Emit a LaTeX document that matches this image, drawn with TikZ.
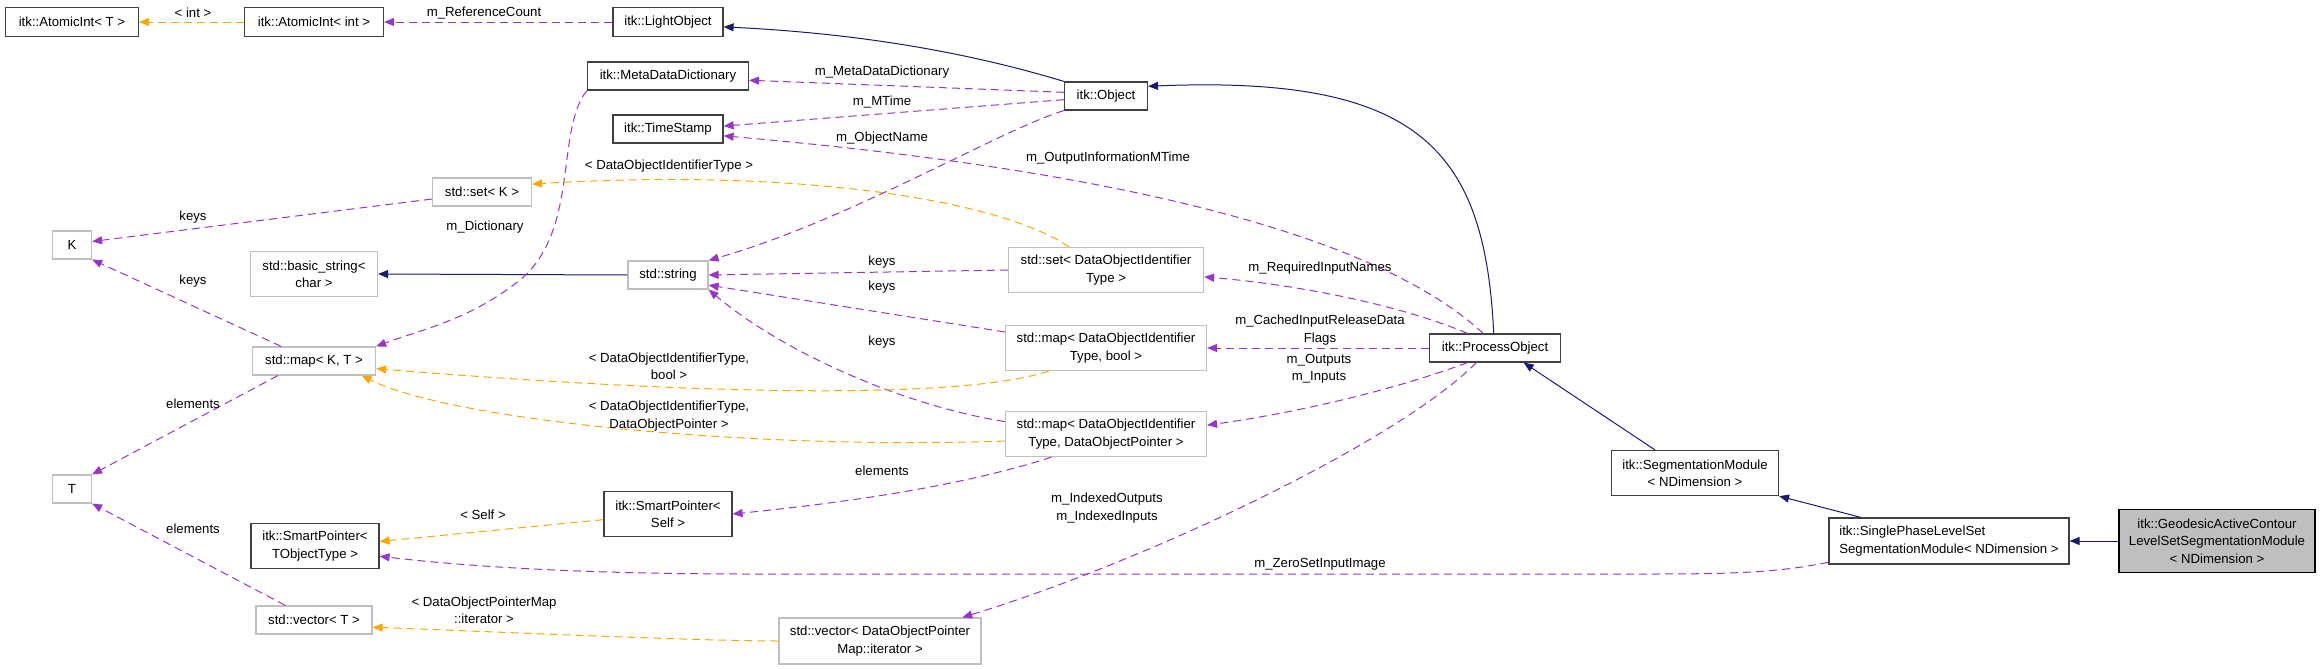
\documentclass[tikz,border=0pt]{standalone}
\usepackage{fontspec}
\setmainfont{Liberation Sans}
\usetikzlibrary{arrows.meta}
\definecolor{inhcol}{HTML}{191970}
\definecolor{usecol}{HTML}{9A32CD}
\definecolor{tplcol}{HTML}{FFA500}
\definecolor{doccol}{HTML}{404040}
\definecolor{extcol}{HTML}{BFBFBF}
\newcommand\dg{\fontsize{6.6}{8.7}\selectfont}
\tikzset{
  wh/.style 2 args={minimum width=#1*0.5pt, minimum height=#2*0.5pt},
  cls/.style={draw=doccol, line width=0.6pt, fill=white, inner sep=0pt, align=center, font=\dg},
  ext/.style={cls, draw=extcol},
  lbl/.style={inner sep=0pt, align=center, font=\dg},
  tip/.style={-{Triangle[length=5pt,width=4pt]}},
  inh/.style={tip, draw=inhcol, line width=0.5pt},
  use/.style={tip, draw=usecol, line width=0.5pt, dash pattern=on 4pt off 2.5pt},
  tpl/.style={tip, draw=tplcol, line width=0.5pt, dash pattern=on 4pt off 2.5pt},
}
\begin{document}
\begin{tikzpicture}[x=0.5pt, y=-0.5pt]
        \useasboundingbox (0,0) rectangle (2320,669);
        % The classes
        \node[cls, wh={133}{29}] (atomT)   at (72,22)   {itk::AtomicInt\textless{} T \textgreater};
        \node[cls, wh={139}{29}] (atomInt) at (314,22)  {itk::AtomicInt\textless{} int \textgreater};
        \node[cls, wh={110}{29}] (light)   at (668,22)  {itk::LightObject};
        \node[cls, wh={161}{28}] (meta)    at (668,76)  {itk::MetaDataDictionary};
        \node[cls, wh={110}{28}] (stamp)   at (668,129) {itk::TimeStamp};
        \node[ext, wh={99}{28}]  (setK)    at (482,192) {std::set\textless{} K \textgreater};
        \node[ext, wh={39}{28}]  (K)       at (72,245)  {K};
        \node[ext, wh={127}{45}] (bstr)    at (314,274) {std::basic\_string\textless\\char \textgreater};
        \node[ext, wh={80}{28}]  (str)     at (668,275) {std::string};
        \node[ext, wh={123}{28}] (mapKT)   at (314,361) {std::map\textless{} K, T \textgreater};
        \node[ext, wh={39}{28}]  (T)       at (72,489)  {T};
        \node[cls, wh={128}{45}] (spT)     at (315,546) {itk::SmartPointer\textless\\TObjectType \textgreater};
        \node[cls, wh={128}{45}] (spS)     at (668,514) {itk::SmartPointer\textless\\Self \textgreater};
        \node[ext, wh={116}{28}] (vecT)    at (314,620) {std::vector\textless{} T \textgreater};
        \node[cls, wh={83}{28}]  (obj)     at (1106,96) {itk::Object};
        \node[ext, wh={195}{45}] (setD)    at (1106,270) {std::set\textless{} DataObjectIdentifier\\Type \textgreater};
        \node[ext, wh={201}{45}] (mapB)    at (1106,348) {std::map\textless{} DataObjectIdentifier\\Type, bool \textgreater};
        \node[ext, wh={201}{45}] (mapP)    at (1106,434) {std::map\textless{} DataObjectIdentifier\\Type, DataObjectPointer \textgreater};
        \node[ext, wh={202}{46}] (vecD)    at (880,641) {std::vector\textless{} DataObjectPointer\\Map::iterator \textgreater};
        \node[cls, wh={131}{28}] (po)      at (1495,348) {itk::ProcessObject};
        \node[cls, wh={167}{45}] (seg)     at (1695,473) {itk::SegmentationModule\\\textless{} NDimension \textgreater};
        \node[cls, wh={240}{46}, align=left] (sp) at (1949,541) {itk::SinglePhaseLevelSet\\SegmentationModule\textless{} NDimension \textgreater};
        \node[cls, wh={196}{63}, fill=extcol, draw=black] (geo) at (2217,541) {itk::GeodesicActiveContour\\LevelSetSegmentationModule\\\textless{} NDimension \textgreater};

        % Inheritance
        \draw[inh] (obj.north west) .. controls (960,50) and (850,33) .. (light.-5);
        \draw[inh] (po.95) .. controls (1485,150) and (1420,75) .. (obj.13);
        \draw[inh] (seg.150) -- (po.-27);
        \draw[inh] (sp.165) -- (seg.south east);
        \draw[inh] (geo.west) -- (sp.east);
        \draw[inh] (str.west) -- (bstr.east);

        % Members
        \draw[use] (light.west) -- (atomInt.east);
        \draw[use] (obj.175) -- (meta.-3);
        \draw[use] (obj.185) -- (stamp.3);
        \draw[use] (po.129) .. controls (1350,210) and (1000,160) .. (stamp.-7);
        \draw[use] (obj.south west) .. controls (1000,130) and (850,220) .. (str.north east);
        \draw[use] (setK.188) -- (K.10);
        \draw[use] (mapKT.156) -- (K.south east);
        \draw[use] (mapKT.202) -- (T.north east);
        \draw[use] (vecT.153) -- (T.south east);
        \draw[use] (meta.south west) .. controls (555,130) and (580,230) .. (520,280)
          .. controls (470,320) and (420,330) .. (mapKT.north east);
        \draw[use] (setD.west) -- (str.east);
        \draw[use] (mapB.171) -- (str.-14);
        \draw[use] (mapP.173) .. controls (900,405) and (780,350) .. (str.south east);
        \draw[use] (mapP.203) .. controls (950,490) and (820,505) .. (spS.east);
        \draw[use] (po.152) .. controls (1400,305) and (1300,285) .. (setD.-4);
        \draw[use] (po.west) -- (mapB.east);
        \draw[use] (po.-152) .. controls (1380,395) and (1280,415) .. (mapP.5);
        \draw[use] (po.218) .. controls (1400,440) and (1150,560) .. (vecD.16);
        \draw[use] (sp.190) .. controls (1780,572) and (1740,574) .. (1650,574) -- (750,574)
          .. controls (600,574) and (480,568) .. (spT.-9);

        % Templates
        \draw[tpl] (atomInt.west) -- (atomT.east);
        \draw[tpl] (setD.148) .. controls (1000,200) and (800,168) .. (setK.9);
        \draw[tpl] (mapB.202) .. controls (960,400) and (700,395) .. (mapKT.-7);
        \draw[tpl] (mapP.184) .. controls (750,450) and (450,420) .. (mapKT.-17);
        \draw[tpl] (spS.185) -- (spT.4);
        \draw[tpl] (vecD.west) .. controls (700,641) and (500,632) .. (vecT.-7);

        % Labels
        \node[lbl] (lRef)    at (484,13)   {m\_ReferenceCount};
        \node[lbl] (lInt)    at (193,13)   {\textless{} int \textgreater};
        \node[lbl] (lMeta)   at (882,72)   {m\_MetaDataDictionary};
        \node[lbl] (lMTime)  at (882,102)  {m\_MTime};
        \node[lbl] (lName)   at (882,138)  {m\_ObjectName};
        \node[lbl] (lOutInf) at (1108,158) {m\_OutputInformationMTime};
        \node[lbl] (lDoit)   at (669,166)  {\textless{} DataObjectIdentifierType \textgreater};
        \node[lbl] (lKeys1)  at (193,217)  {keys};
        \node[lbl] (lKeys2)  at (193,281)  {keys};
        \node[lbl] (lDict)   at (485,227)  {m\_Dictionary};
        \node[lbl] (lKeys3)  at (882,262)  {keys};
        \node[lbl] (lKeys4)  at (882,287)  {keys};
        \node[lbl] (lKeys5)  at (882,342)  {keys};
        \node[lbl] (lReq)    at (1320,268) {m\_RequiredInputNames};
        \node[lbl] (lCache)  at (1320,330) {m\_CachedInputReleaseData\\Flags};
        \node[lbl] (lIO)     at (1319,369) {m\_Outputs\\m\_Inputs};
        \node[lbl] (lBool)   at (669,366)  {\textless{} DataObjectIdentifierType,\\bool \textgreater};
        \node[lbl] (lPtr)    at (669,416)  {\textless{} DataObjectIdentifierType,\\DataObjectPointer \textgreater};
        \node[lbl] (lElem1)  at (193,404)  {elements};
        \node[lbl] (lElem2)  at (882,471)  {elements};
        \node[lbl] (lIdx)    at (1107,508) {m\_IndexedOutputs\\m\_IndexedInputs};
        \node[lbl] (lSelf)   at (483,515)  {\textless{} Self \textgreater};
        \node[lbl] (lElem3)  at (193,529)  {elements};
        \node[lbl] (lZero)   at (1320,564) {m\_ZeroSetInputImage};
        \node[lbl] (lIter)   at (484,610)  {\textless{} DataObjectPointerMap\\::iterator \textgreater};
    \end{tikzpicture}
\end{document}
